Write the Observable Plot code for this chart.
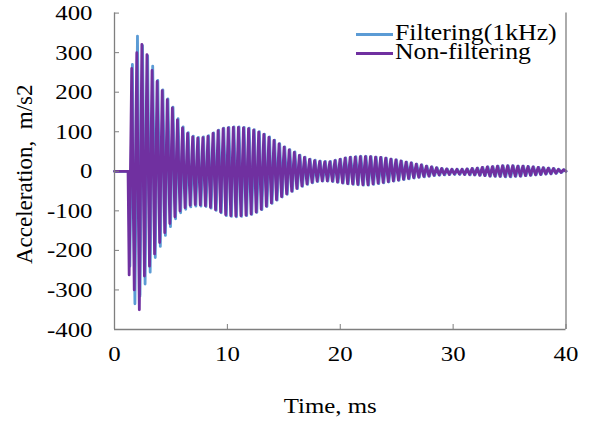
<!DOCTYPE html>
<html><head><meta charset="utf-8">
<script src="https://cdn.jsdelivr.net/npm/d3@7"></script>
<script src="https://cdn.jsdelivr.net/npm/@observablehq/plot@0.6"></script>
<style>
body{margin:0;background:#fff;}
#wrap{position:relative;width:589px;height:421px;}
.leg{position:absolute;font-family:"Liberation Serif","Times New Roman",serif;font-size:23px;color:#000;white-space:pre;line-height:19px;transform-origin:left center;transform:scaleX(1.12);}
.sw{position:absolute;height:3px;}
</style></head><body><div id="wrap"></div>
<script>
const seriesNames = ["Filtering(1kHz)", "Non-filtering"];
const seriesColors = ["#5B9BD5", "#7030A0"];
const xTicks = [0, 10, 20, 30, 40];
const yTicks = [-400, -300, -200, -100, 0, 100, 200, 300, 400];
const xLabel = "Time, ms";
const yLabel = "Acceleration,\u00a0\u00a0m/s2";

// time base (ms)
const onsetMs = 1.2;          // signal starts
const firstExtremeMs = 1.3;   // first trough
const halfPeriodMs = 0.225;   // spacing of successive extremes
const filteredPhaseMs = 0.06; // filtered trace lags slightly

// Non-filtering: peaks (+) and troughs (-) per cycle, m/s2
const rawPeaks = [260,300,321,295,255,227,204,181,160,130,
  110,96,87,84,85,88,96,103,108,110,
  111,111,110,108,104,99,93,86,78,69,
  61,54,48,40,35,30,27,25,24,24,
  27,30,33,35,36,37,37,37,36,35,
  33,31,29,26,23,21,18,16,13,11,
  9,7,6,5,5,5,6,7,8,10,
  11,12,13,14,14,14,13,13,12,11,
  10,9,8,7,5,4];
const rawTroughs = [-262,-300,-350,-265,-240,-209,-180,-155,-132,-115,
  -100,-92,-86,-84,-85,-87,-91,-97,-103,-110,
  -112,-113,-112,-111,-108,-103,-96,-88,-80,-72,
  -64,-57,-50,-43,-37,-32,-28,-25,-24,-24,
  -25,-27,-29,-31,-32,-33,-34,-34,-32,-30,
  -28,-26,-24,-22,-20,-18,-16,-15,-13,-12,
  -10,-9,-8,-8,-7,-7,-8,-8,-9,-10,
  -11,-12,-12,-13,-13,-13,-12,-12,-11,-10,
  -9,-8,-7,-6,-5,-3];
// Filtering(1kHz)
const filtPeaks = [270,342,318,292,266,230,206,183,162,133,
  112,98,89,86,87,90,97,104,109,111,
  112,112,111,109,105,100,94,87,79,70,
  62,55,49,41,36,31,28,26,25,25,
  28,31,34,36,37,38,38,37,36,35,
  33,31,29,26,23,21,18,16,13,11,
  9,7,6,5,5,5,6,7,8,10,
  11,12,13,14,14,14,13,13,12,11,
  10,9,8,7,5,4];
const filtTroughs = [-240,-335,-315,-285,-255,-218,-190,-162,-140,-120,
  -105,-96,-90,-88,-88,-89,-93,-99,-105,-112,
  -114,-115,-114,-112,-109,-104,-97,-89,-81,-73,
  -65,-58,-51,-44,-38,-33,-29,-26,-25,-25,
  -26,-28,-30,-32,-33,-34,-35,-35,-33,-31,
  -29,-27,-25,-23,-21,-19,-17,-15,-14,-12,
  -11,-10,-9,-8,-8,-8,-8,-9,-9,-10,
  -11,-12,-13,-13,-14,-14,-13,-12,-11,-10,
  -9,-8,-7,-6,-5,-3];

function buildSeries(name, peaks, troughs, phase) {
  const pts = [{t: 0, a: 0, s: name}, {t: onsetMs + phase, a: 0, s: name}];
  for (let k = 0; k < peaks.length; k++) {
    const base = firstExtremeMs + phase + 2 * k * halfPeriodMs;
    pts.push({t: base, a: troughs[k], s: name});
    pts.push({t: base + halfPeriodMs, a: peaks[k], s: name});
  }
  pts.push({t: 40, a: 0, s: name});
  return pts;
}
const filtered = buildSeries(seriesNames[0], filtPeaks, filtTroughs, filteredPhaseMs);
const raw = buildSeries(seriesNames[1], rawPeaks, rawTroughs, 0);

const font = '"Liberation Serif","Times New Roman",serif';
const axisColor = "#7f7f7f";

const chart = Plot.plot({
  width: 589, height: 421,
  marginLeft: 114, marginRight: 23.5, marginTop: 12.6, marginBottom: 92,
  style: {fontFamily: font, fontSize: "22px", color: "#000", background: "#fff", overflow: "visible"},
  x: {domain: [0, 40]},
  y: {domain: [-400, 400]},
  marks: [
    Plot.line(filtered, {x: "t", y: "a", stroke: seriesColors[0], strokeWidth: 2.8, strokeLinejoin: "round"}),
    Plot.line(raw, {x: "t", y: "a", stroke: seriesColors[1], strokeWidth: 2.8, strokeLinejoin: "round"}),
    Plot.ruleX([xTicks[0], xTicks[xTicks.length - 1]], {stroke: axisColor, strokeWidth: 1.3}),
    Plot.ruleY([yTicks[0]], {stroke: axisColor, strokeWidth: 1.3}),
    Plot.axisY(yTicks, {tickSize: -5, tickPadding: 27, stroke: axisColor, fill: "#000", tickFormat: d => String(d), label: null, fontSize: 22}),
    Plot.axisX(xTicks, {tickSize: -5, tickPadding: 21, stroke: axisColor, fill: "#000", tickFormat: d => String(d), label: null, fontSize: 22}),
    Plot.text([xLabel], {frameAnchor: "bottom", text: d => d, dy: 76, dx: -10, fontSize: 22, fill: "#000", lineAnchor: "middle", textAnchor: "middle"}),
    Plot.text([yLabel], {frameAnchor: "left", text: d => d, dx: -90, dy: 3, rotate: -90, fontSize: 23, fill: "#000", lineAnchor: "middle", textAnchor: "middle"})
  ]
});
const wrap = document.getElementById("wrap");
wrap.appendChild(chart);

// widen horizontal texts slightly (reference glyphs are horizontally stretched)
const stretch = 1.13;
chart.querySelectorAll("text").forEach(el => {
  const tr = el.getAttribute("transform") || "";
  if (tr.includes("rotate")) return;
  const bb = el.getBBox();
  const anchor = getComputedStyle(el).textAnchor;
  const ax = anchor === "end" ? bb.x + bb.width : anchor === "start" ? bb.x : bb.x + bb.width / 2;
  el.setAttribute("transform", `${tr} translate(${ax},0) scale(${stretch},1) translate(${-ax},0)`);
});

// legend (inside the plot area, top right): swatches + one two-line text block
const legendLineY = [33, 52];
seriesNames.forEach((name, i) => {
  const sw = document.createElement("div");
  sw.className = "sw";
  sw.style.left = "356px"; sw.style.width = "37px";
  sw.style.top = legendLineY[i] + "px";
  sw.style.background = seriesColors[i];
  wrap.appendChild(sw);
});
const tx = document.createElement("div");
tx.className = "leg";
tx.style.left = "395px"; tx.style.top = "23px";
tx.textContent = seriesNames.join("\n");
wrap.appendChild(tx);
</script></body></html>
